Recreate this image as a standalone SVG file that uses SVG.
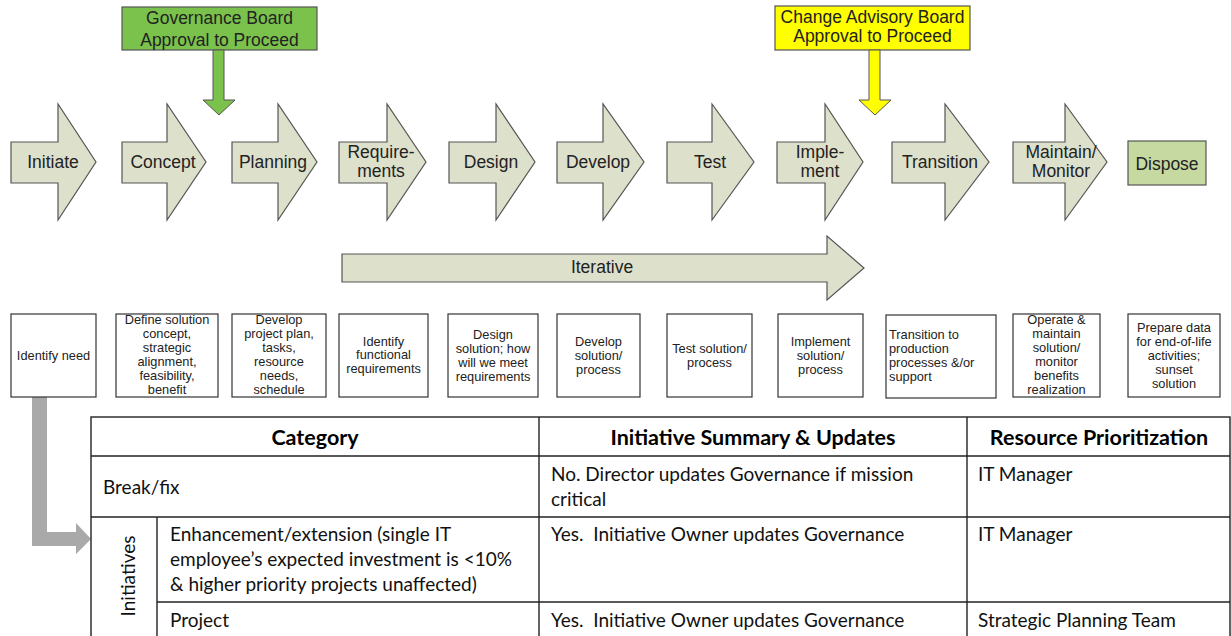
<svg xmlns="http://www.w3.org/2000/svg" width="1231" height="636" viewBox="0 0 1231 636">
<style>
.chev{fill:#dde0cb;stroke:#555;stroke-width:1.2}
.lbl{font-family:"Liberation Sans",Arial,sans-serif;font-size:17.5px;fill:#222;text-anchor:middle}
.box{fill:#fff;stroke:#333;stroke-width:1.2}
.bt{font-family:"Liberation Sans",Arial,sans-serif;font-size:12.8px;fill:#222;text-anchor:middle}
.btl{font-family:"Liberation Sans",Arial,sans-serif;font-size:12.8px;fill:#222}
.tl{stroke:#222;stroke-width:1.4;fill:none}
.th{font-family:Lato,"Liberation Sans",sans-serif;font-size:21.5px;font-weight:bold;fill:#000;text-anchor:middle}
.td{font-family:Lato,"Liberation Sans",sans-serif;font-size:19px;fill:#111}
</style>
<rect width="1231" height="636" fill="#fff"/>
<g id="governance-board">
<rect x="122" y="7" width="195" height="43" fill="#7bc24c" stroke="#555" stroke-width="1.2"/>
<text class="lbl" x="219.5" y="24" font-size="19.5">Governance Board</text>
<text class="lbl" x="219.5" y="45.5" font-size="19.5">Approval to Proceed</text>
</g>
<g id="change-advisory-board">
<rect x="775" y="6" width="195" height="44" fill="#ffff00" stroke="#555" stroke-width="1.2"/>
<text class="lbl" x="872.5" y="23" font-size="15">Change Advisory Board</text>
<text class="lbl" x="872.5" y="41.5" font-size="15">Approval to Proceed</text>
</g>
<g id="initiate"><polygon class="chev" points="11,142 58,142 58,104 96,162 58,220 58,183 11,183"/><text class="lbl" x="53" y="168">Initiate</text></g>
<g id="concept"><polygon class="chev" points="122,142 167,142 167,104 206,162 167,220 167,183 122,183"/><text class="lbl" x="163" y="168">Concept</text></g>
<g id="planning"><polygon class="chev" points="232,142 278,142 278,104 317,162 278,220 278,183 232,183"/><text class="lbl" x="273" y="168">Planning</text></g>
<g id="requirements"><polygon class="chev" points="339,142 387,142 387,104 426,162 387,220 387,183 339,183"/><text class="lbl" x="381" y="158">Require-</text><text class="lbl" x="381" y="177">ments</text></g>
<g id="design"><polygon class="chev" points="449,142 496,142 496,104 535,162 496,220 496,183 449,183"/><text class="lbl" x="491" y="168">Design</text></g>
<g id="develop"><polygon class="chev" points="557,142 603,142 603,104 644,162 603,220 603,183 557,183"/><text class="lbl" x="598" y="168">Develop</text></g>
<g id="test"><polygon class="chev" points="667,142 712,142 712,104 754,162 712,220 712,183 667,183"/><text class="lbl" x="710" y="168">Test</text></g>
<g id="implement"><polygon class="chev" points="777,142 825,142 825,104 863,162 825,220 825,183 777,183"/><text class="lbl" x="820" y="158">Imple-</text><text class="lbl" x="820" y="177">ment</text></g>
<g id="transition"><polygon class="chev" points="892,142 945,142 945,104 989,162 945,220 945,183 892,183"/><text class="lbl" x="940" y="168">Transition</text></g>
<g id="maintain"><polygon class="chev" points="1013,142 1065,142 1065,104 1107,162 1065,220 1065,183 1013,183"/><text class="lbl" x="1061" y="158">Maintain/</text><text class="lbl" x="1061" y="177">Monitor</text></g>
<g id="dispose"><rect x="1128" y="141" width="78" height="44" fill="#c5d9a1" stroke="#555" stroke-width="1.2"/><text class="lbl" x="1167" y="170" font-size="20">Dispose</text></g>
<g id="iterative"><polygon class="chev" points="342,254 827,254 827,236 864,268 827,300 827,282 342,282"/><text class="lbl" x="602" y="273" font-size="17">Iterative</text></g>
<g id="connectors">
<polygon points="203,100 213,100 213,50 224,50 224,100 235,100 219,115" fill="#7bc24c" stroke="#555" stroke-width="1"/>
<polygon points="859,100 869,100 869,50 880,50 880,100 891,100 875,115" fill="#ffff00" stroke="#555" stroke-width="1"/>
<polygon points="32,397 47,397 47,532 76,532 76,523 91,539 76,554 76,546 32,546" fill="#a9a9a9"/>
</g>
<g id="desc-identify"><rect class="box" x="11" y="314" width="85" height="83"/><text class="bt" x="53.5" y="360">Identify need</text></g>
<g id="desc-concept"><rect class="box" x="116" y="314" width="102" height="83"/><text class="bt"><tspan x="167" y="324">Define solution</tspan><tspan x="167" y="338">concept,</tspan><tspan x="167" y="352">strategic</tspan><tspan x="167" y="366">alignment,</tspan><tspan x="167" y="380">feasibility,</tspan><tspan x="167" y="394">benefit</tspan></text></g>
<g id="desc-planning"><rect class="box" x="232" y="314" width="94" height="83"/><text class="bt"><tspan x="279" y="324">Develop</tspan><tspan x="279" y="338">project plan,</tspan><tspan x="279" y="352">tasks,</tspan><tspan x="279" y="366">resource</tspan><tspan x="279" y="380">needs,</tspan><tspan x="279" y="394">schedule</tspan></text></g>
<g id="desc-requirements"><rect class="box" x="339" y="314" width="89" height="83"/><text class="bt"><tspan x="383.5" y="346">Identify</tspan><tspan x="383.5" y="359">functional</tspan><tspan x="383.5" y="373">requirements</tspan></text></g>
<g id="desc-design"><rect class="box" x="448" y="314" width="90" height="83"/><text class="bt"><tspan x="493" y="339">Design</tspan><tspan x="493" y="353">solution; how</tspan><tspan x="493" y="367">will we meet</tspan><tspan x="493" y="381">requirements</tspan></text></g>
<g id="desc-develop"><rect class="box" x="557" y="314" width="83" height="83"/><text class="bt"><tspan x="598.5" y="346">Develop</tspan><tspan x="598.5" y="360">solution/</tspan><tspan x="598.5" y="374">process</tspan></text></g>
<g id="desc-test"><rect class="box" x="667" y="314" width="85" height="83"/><text class="bt"><tspan x="709.5" y="353">Test solution/</tspan><tspan x="709.5" y="367">process</tspan></text></g>
<g id="desc-implement"><rect class="box" x="778" y="314" width="85" height="83"/><text class="bt"><tspan x="820.5" y="346">Implement</tspan><tspan x="820.5" y="360">solution/</tspan><tspan x="820.5" y="374">process</tspan></text></g>
<g id="desc-transition"><rect class="box" x="886" y="315" width="110" height="83"/><text class="btl"><tspan x="889" y="339">Transition to</tspan><tspan x="889" y="353">production</tspan><tspan x="889" y="367">processes &amp;/or</tspan><tspan x="889" y="381">support</tspan></text></g>
<g id="desc-maintain"><rect class="box" x="1013" y="314" width="87" height="83"/><text class="bt"><tspan x="1056.5" y="324">Operate &amp;</tspan><tspan x="1056.5" y="338">maintain</tspan><tspan x="1056.5" y="352">solution/</tspan><tspan x="1056.5" y="366">monitor</tspan><tspan x="1056.5" y="380">benefits</tspan><tspan x="1056.5" y="394">realization</tspan></text></g>
<g id="desc-dispose"><rect class="box" x="1128" y="314" width="92" height="83"/><text class="bt"><tspan x="1174" y="332">Prepare data</tspan><tspan x="1174" y="346">for end-of-life</tspan><tspan x="1174" y="360">activities;</tspan><tspan x="1174" y="374">sunset</tspan><tspan x="1174" y="388">solution</tspan></text></g>
<g id="table">
<rect x="91" y="417" width="1139" height="225" fill="#fff" class="tl"/>
<line class="tl" x1="91" y1="456" x2="1230" y2="456"/>
<line class="tl" x1="91" y1="517" x2="1230" y2="517"/>
<line class="tl" x1="157" y1="602" x2="1230" y2="602"/>
<line class="tl" x1="157" y1="517" x2="157" y2="636"/>
<line class="tl" x1="539" y1="417" x2="539" y2="636"/>
<line class="tl" x1="967" y1="417" x2="967" y2="636"/>
<text class="th" x="315" y="445">Category</text>
<text class="th" x="753" y="445">Initiative Summary &amp; Updates</text>
<text class="th" x="1099" y="445">Resource Prioritization</text>
<text class="td" x="103" y="494">Break/fix</text>
<text class="td" x="551" y="481">No. Director updates Governance if mission</text>
<text class="td" x="551" y="506">critical</text>
<text class="td" x="978" y="481">IT Manager</text>
<text class="td" transform="translate(135,576) rotate(-90)" text-anchor="middle">Initiatives</text>
<text class="td" x="170" y="541">Enhancement/extension (single IT</text>
<text class="td" x="170" y="566">employee’s expected investment is &lt;10%</text>
<text class="td" x="170" y="591">&amp; higher priority projects unaffected)</text>
<text class="td" x="551" y="541">Yes.&#160; Initiative Owner updates Governance</text>
<text class="td" x="978" y="541">IT Manager</text>
<text class="td" x="170" y="627">Project</text>
<text class="td" x="551" y="627">Yes.&#160; Initiative Owner updates Governance</text>
<text class="td" x="978" y="627">Strategic Planning Team</text>
</g>
</svg>
